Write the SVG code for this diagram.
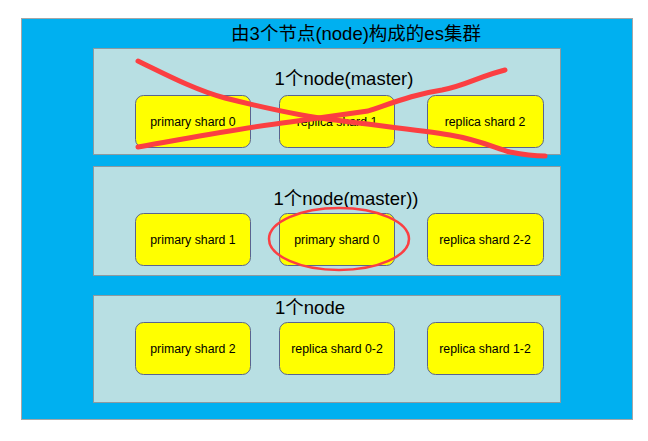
<svg xmlns="http://www.w3.org/2000/svg" width="648" height="441" viewBox="0 0 648 441">
<style>
.outer{fill:#00b0f0;stroke:#a6a6a6;stroke-width:1}
.panel{fill:#b8dfe3;stroke:#8c9aa0;stroke-width:1}
.shard{fill:#ffff00;stroke:#5a6490;stroke-width:1}
.st{font-family:"Liberation Sans","Noto Sans CJK SC",sans-serif;font-size:12.3px;fill:#000;text-anchor:middle}
.nt{font-family:"Liberation Sans","Noto Sans CJK SC",sans-serif;font-size:18.5px;fill:#000;text-anchor:middle}
.tt{font-family:"Liberation Sans","Noto Sans CJK SC",sans-serif;font-size:18.5px;fill:#000;text-anchor:middle}
.mark{fill:none;stroke:#fb3f42;stroke-linecap:round;stroke-linejoin:round}
</style>
<rect width="648" height="441" fill="#ffffff"/>
<g id="cluster">
<rect class="outer" x="21.5" y="18.5" width="611" height="401"/>
<text class="tt" x="356" y="40">由3个节点(node)构成的es集群</text>
</g>
<g id="node1">
<rect class="panel" x="93.5" y="48.5" width="467" height="106"/>
<text class="nt" x="344" y="85">1个node(master)</text>
</g>
<g id="node2">
<rect class="panel" x="93.5" y="166.5" width="467" height="109"/>
<text class="nt" x="346" y="205">1个node(master))</text>
</g>
<g id="node3">
<rect class="panel" x="93.5" y="295.5" width="467" height="107"/>
<text class="nt" x="310" y="314">1个node</text>
</g>
<g id="s1a"><rect class="shard" x="135.5" y="95.5" width="115" height="52" rx="8"/><text class="st" x="193" y="126">primary shard 0</text></g>
<g id="s1b"><rect class="shard" x="279.5" y="95.5" width="115" height="52" rx="8"/><text class="st" x="337" y="126">replica shard 1</text></g>
<g id="s1c"><rect class="shard" x="427.5" y="95.5" width="116" height="52" rx="8"/><text class="st" x="485" y="126">replica shard 2</text></g>
<g id="s2a"><rect class="shard" x="135.5" y="213.5" width="115" height="52" rx="8"/><text class="st" x="193" y="244">primary shard 1</text></g>
<g id="s2b"><rect class="shard" x="279.5" y="213.5" width="115" height="52" rx="8"/><text class="st" x="337" y="244">primary shard 0</text></g>
<g id="s2c"><rect class="shard" x="427.5" y="213.5" width="116" height="52" rx="8"/><text class="st" x="485" y="244">replica shard 2-2</text></g>
<g id="s3a"><rect class="shard" x="135.5" y="322.5" width="115" height="52" rx="8"/><text class="st" x="193" y="353">primary shard 2</text></g>
<g id="s3b"><rect class="shard" x="279.5" y="322.5" width="115" height="52" rx="8"/><text class="st" x="337" y="353">replica shard 0-2</text></g>
<g id="s3c"><rect class="shard" x="427.5" y="322.5" width="116" height="52" rx="8"/><text class="st" x="485" y="353">replica shard 1-2</text></g>
<g id="connectors">
<path class="mark" stroke-width="5" d="M138,61 C165,74 195,90 225,98 C265,108 300,116 335,120 C380,126 420,130 450,135 C480,140 495,148 510,152 C525,155 535,156 545,156"/>
<path class="mark" stroke-width="5" d="M138,147 C190,138 240,128 290,122 C320,118 345,114 368,111 C395,102 415,94 442,90 C465,86 480,76 505,70"/>
<ellipse class="mark" stroke-width="2.5" cx="339" cy="239" rx="70" ry="31"/>
</g>
</svg>
